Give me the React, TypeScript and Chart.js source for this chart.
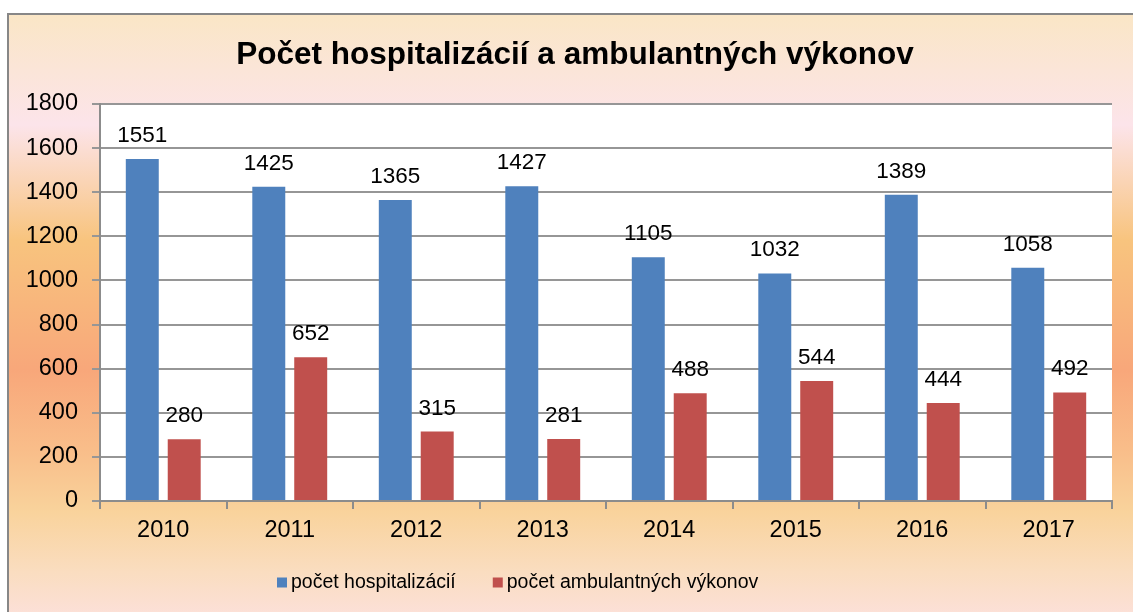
import React, { useEffect, useRef } from "react";
import { Chart, registerables } from "chart.js";

Chart.register(...registerables);

const years = ["2010", "2011", "2012", "2013", "2014", "2015", "2016", "2017"];
const hospitalizations = [1551, 1425, 1365, 1427, 1105, 1032, 1389, 1058];
const ambulatory = [280, 652, 315, 281, 488, 544, 444, 492];
const seriesNames = ["počet hospitalizácií", "počet ambulantných výkonov"];
const seriesColors = ["#4F81BD", "#C0504D"];
const titleText = "Počet hospitalizácií a ambulantných výkonov";
const yMin = 0;
const yMax = 1800;
const yStep = 200;

const FONT = "'Liberation Sans', Arial, sans-serif";

const decorPlugin = {
  id: "decor",
  beforeDraw(chart: any) {
    const { ctx, chartArea: a } = chart;
    ctx.save();
    ctx.fillStyle = "#ffffff";
    ctx.fillRect(a.left, a.top, a.right - a.left, a.bottom - a.top);
    ctx.restore();
  },
  afterDatasetsDraw(chart: any) {
    const { ctx } = chart;
    ctx.save();
    ctx.font = `22.5px ${FONT}`;
    ctx.fillStyle = "#000000";
    ctx.textAlign = "center";
    ctx.textBaseline = "alphabetic";
    chart.data.datasets.forEach((ds: any, di: number) => {
      const meta = chart.getDatasetMeta(di);
      meta.data.forEach((el: any, i: number) => {
        ctx.fillText(String(ds.data[i]), el.x, el.y - 17);
      });
    });
    ctx.restore();
  },
  afterDraw(chart: any) {
    const { ctx } = chart;
    ctx.save();
    // title
    ctx.font = `bold 31.5px ${FONT}`;
    ctx.fillStyle = "#000000";
    ctx.textAlign = "center";
    ctx.textBaseline = "alphabetic";
    ctx.fillText(titleText, 575, 64);
    // legend
    ctx.font = `19.5px ${FONT}`;
    ctx.textAlign = "left";
    ctx.textBaseline = "middle";
    let x = 277;
    const yMid = 582.5;
    chart.data.datasets.forEach((ds: any) => {
      ctx.fillStyle = ds.backgroundColor;
      ctx.fillRect(x, yMid - 5, 10, 10);
      ctx.fillStyle = "#000000";
      ctx.fillText(ds.label, x + 14, yMid);
      x += 14 + ctx.measureText(ds.label).width + 37;
    });
    ctx.restore();
  },
};

export default function App() {
  const canvasRef = useRef<HTMLCanvasElement | null>(null);

  useEffect(() => {
    if (!canvasRef.current) return;
    const chart = new Chart(canvasRef.current, {
      type: "bar",
      data: {
        labels: years,
        datasets: [
          {
            label: seriesNames[0],
            data: hospitalizations,
            backgroundColor: seriesColors[0],
            barPercentage: 0.786,
            categoryPercentage: 0.663,
          },
          {
            label: seriesNames[1],
            data: ambulatory,
            backgroundColor: seriesColors[1],
            barPercentage: 0.786,
            categoryPercentage: 0.663,
          },
        ],
      },
      options: {
        animation: false,
        responsive: false,
        devicePixelRatio: 1,
        layout: { padding: { top: 104, bottom: 71, left: 0, right: 21 } },
        plugins: {
          legend: { display: false },
          title: { display: false },
          tooltip: { enabled: false },
        },
        scales: {
          x: {
            grid: {
              display: true,
              drawOnChartArea: false,
              drawTicks: true,
              tickLength: 8,
              color: "#8c8c8c",
              lineWidth: 2,
              offset: true,
            },
            border: { display: true, color: "#8c8c8c", width: 2 },
            ticks: { font: { family: FONT, size: 23.5 }, color: "#000000", padding: 7 },
            afterFit: (s: any) => {
              s.height = 40;
            },
          },
          y: {
            min: yMin,
            max: yMax,
            ticks: {
              stepSize: yStep,
              font: { family: FONT, size: 23.5 },
              color: "#000000",
              padding: 14,
              callback: (v: any) => String(v),
            },
            grid: { color: "#969696", lineWidth: 2, tickLength: 8, drawTicks: true },
            border: { display: true, color: "#8c8c8c", width: 2 },
            afterFit: (s: any) => {
              s.width = 100;
            },
          },
        },
      },
      plugins: [decorPlugin],
    });
    return () => chart.destroy();
  }, []);

  return (
    <div
      style={{
        position: "fixed",
        left: 0,
        top: 0,
        width: 1133,
        height: 612,
        overflow: "hidden",
        background: "#ffffff",
      }}
    >
      <div
        style={{
          position: "absolute",
          left: 7,
          top: 13,
          width: 1200,
          height: 700,
          borderLeft: "2px solid #878787",
          borderTop: "2px solid #878787",
          background:
            "linear-gradient(to bottom, #FAE6C6 0px, #FCE4EA 110px, #F8C47E 225px, #F8A77A 355px, #F9BE8A 437px, #F9D39C 497px, #FADDC0 557px, #FCE0D8 600px, #FCE0D8 700px)",
        }}
      />
      <canvas
        ref={canvasRef}
        width={1133}
        height={612}
        style={{ position: "absolute", left: 0, top: 0, display: "block" }}
      />
    </div>
  );
}
